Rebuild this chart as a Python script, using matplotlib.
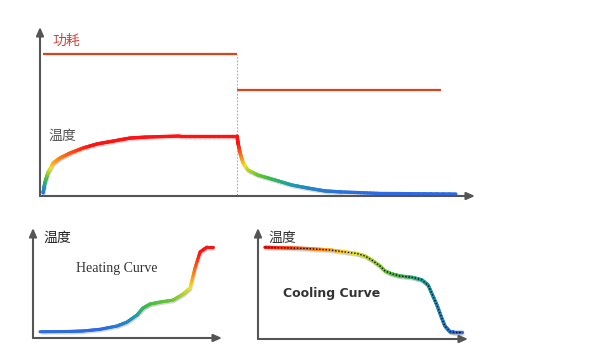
import numpy as np
import matplotlib
matplotlib.use("Agg")
import matplotlib.pyplot as plt
from matplotlib.collections import LineCollection
from matplotlib.colors import LinearSegmentedColormap, Normalize
import matplotlib.patheffects as pe

plt.rcParams['font.family'] = ['Noto Sans CJK SC', 'DejaVu Sans']

# ---- main chart: power step + temperature response (arbitrary units 0-100)
power_edges = [0.7, 45.3, 92.2]
power_levels = [84, 63]
switch_t = 45.3

temp_t = [0.7, 1.1, 1.8, 3.0, 4.6, 6.9, 9.9, 13.1, 16.8, 20.7, 24.6, 32.2, 45.3,
          45.5, 46.0, 46.7, 47.8, 50.1, 54.0, 57.9, 61.6, 65.5, 69.4, 78.2, 95.6]
temp_v = [1.8, 7.7, 13.6, 19.5, 22.5, 25.4, 28.4, 30.8, 32.5, 34.3, 34.9, 35.5, 35.5,
          31.4, 25.4, 19.5, 15.4, 12.4, 9.5, 6.5, 4.7, 3.0, 2.4, 1.5, 1.2]

# ---- heating curve
heat_t = [3.7, 18.0, 26.5, 35.4, 44.4, 49.7, 55.0, 58.2, 61.9, 67.2, 74.1, 79.4,
          83.1, 85.7, 88.4, 92.1, 95.2]
heat_v = [5.7, 5.9, 6.4, 7.9, 10.9, 14.5, 20.9, 27.3, 30.9, 32.7, 34.5, 40.0,
          45.5, 63.6, 78.2, 82.7, 82.7]

# ---- cooling curve
cool_t = [3.3, 15.2, 23.3, 34.3, 41.4, 47.1, 51.0, 54.8, 58.1, 60.5, 63.8, 67.6,
          73.8, 78.1, 81.0, 83.3, 85.2, 87.1, 89.0, 91.4, 93.8, 97.1]
cool_v = [82.6, 82.0, 81.5, 80.2, 78.4, 77.0, 74.8, 70.3, 65.8, 61.3, 58.6, 56.8,
          55.4, 53.2, 48.6, 38.7, 30.6, 20.7, 11.7, 6.6, 5.9, 5.9]

rainbow = LinearSegmentedColormap.from_list('rb', [
    (0.0, '#2d6be6'), (0.18, '#1a9fa8'), (0.33, '#46bf3c'),
    (0.55, '#f2e21e'), (0.72, '#ff8a12'), (1.0, '#ff1212')])

AX = '#555555'


def px_axes(l, t, r, b):
    a = fig.add_axes([l / 594, (352 - b) / 352, (r - l) / 594, (b - t) / 352])
    a.set_xlim(0, 100)
    a.set_ylim(0, 100)
    a.axis('off')
    arrow = dict(arrowstyle='-|>,head_length=0.5,head_width=0.22', color=AX, lw=1.5,
                 shrinkA=0, shrinkB=0)
    a.annotate('', xy=(0, 1), xytext=(0, 0), xycoords='axes fraction', arrowprops=arrow)
    a.annotate('', xy=(1, 0), xytext=(0, 0), xycoords='axes fraction', arrowprops=arrow)
    return a


def gradient_line(a, x, y, c, norm, lw, sub=12):
    x = np.asarray(x, float); y = np.asarray(y, float); c = np.asarray(c, float)
    segs, cols = [], []
    for i in range(len(x) - 1):
        f = np.linspace(0, 1, sub + 1)
        xs = x[i] + (x[i + 1] - x[i]) * f
        ys = y[i] + (y[i + 1] - y[i]) * f
        cs = c[i] + (c[i + 1] - c[i]) * f
        for k in range(sub):
            segs.append([(xs[k], ys[k]), (xs[k + 1], ys[k + 1])])
            cols.append((cs[k] + cs[k + 1]) / 2)
    lc = LineCollection(segs, cmap=rainbow, norm=norm, linewidths=lw, capstyle='round',
                        path_effects=[pe.SimpleLineShadow(offset=(0.6, -1.2),
                                                          shadow_color='#999999', alpha=0.15),
                                      pe.Normal()])
    lc.set_array(np.array(cols))
    a.add_collection(lc)
    return lc


fig = plt.figure(figsize=(5.94, 3.52), dpi=100)

# main
ax = px_axes(40, 27, 475, 196)
ax.hlines(power_levels, power_edges[:-1], power_edges[1:], color='#d9441c', lw=1.6)
ax.plot([switch_t, switch_t], [0.5, 84], color='#aaaaaa', lw=0.8, ls=(0, (1.5, 1.5)))
gradient_line(ax, temp_t, temp_v, temp_v, Normalize(1.5, 30), 2.4)
ax.text(2.8, 91.7, '功耗', color='#d9403a', fontsize=10, va='center', ha='left')
ax.text(1.9, 35.5, '温度', color='#555555', fontsize=10, va='center', ha='left')

# heating curve
ax2 = px_axes(33, 228, 222, 338)
gradient_line(ax2, heat_t, heat_v, heat_v, Normalize(8, 78), 2.2)
ax2.text(5.3, 91.5, '温度', color='#222222', fontsize=10, va='center', ha='left')
ax2.text(44.5, 63, 'Heating Curve', color='#333333', fontsize=10, va='center', ha='center',
         family='Liberation Serif')

# cooling curve
ax3 = px_axes(258, 228, 468, 339)
gradient_line(ax3, cool_t, cool_v, [100 - t for t in cool_t], Normalize(3, 97), 2.4)
ax3.plot(cool_t, cool_v, color='black', lw=1.0, ls=(0, (1, 1.3)))
ax3.text(4.8, 91.5, '温度', color='#333333', fontsize=10, va='center', ha='left')
ax3.text(35, 41, 'Cooling Curve', color='#333333', fontsize=9, va='center', ha='center',
         fontweight='bold', family='DejaVu Sans')

fig.savefig('out.png', dpi=100)
